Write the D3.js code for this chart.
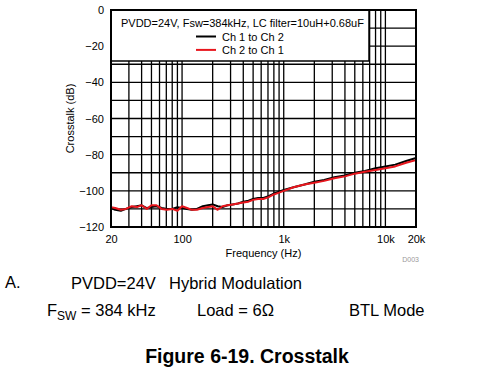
<!DOCTYPE html>
<html>
<head>
<meta charset="utf-8">
<script src="https://cdn.jsdelivr.net/npm/d3@7"></script>
<style>
  body { margin: 0; background: #fff; }
  svg text { font-family: "Liberation Sans", Arial, sans-serif; }
</style>
</head>
<body>
<div id="chart"></div>
<script>
// frequency points (Hz)
const freqs = [20, 22, 25, 28, 32, 36, 40, 45, 50, 56, 63, 71, 80, 90, 100, 112, 125, 140, 160, 180,
  200, 224, 250, 280, 315, 355, 400, 450, 500, 560, 630, 710, 800, 900, 1000, 1250, 1600, 2000,
  2500, 3150, 4000, 5000, 6300, 8000, 10000, 12500, 16000, 20000]

// Ch 1 to Ch 2 (dB)
const ch1to2 = [-109.5, -110.5, -111, -110, -109, -108.5, -108, -109.5, -109, -108.5, -109.5, -110,
  -110, -109, -109.5, -110, -110.5, -110, -108.5, -108, -107.5, -108.5, -109, -108, -107.5, -107,
  -106, -105.5, -104.5, -104, -104, -103, -101.5, -100.5, -99.5, -98, -96.5, -95, -94, -92.5,
  -91.5, -90, -89, -87.5, -86.5, -85.5, -83.5, -81.8]

// Ch 2 to Ch 1 (dB)
const ch2to1 = [-109, -109.5, -110.5, -110, -108.5, -109, -108, -110, -108, -108, -110, -110.5,
  -110, -111, -108.5, -109.5, -110.5, -110.5, -109.5, -109, -108.5, -110.5, -108.5, -108, -107.5,
  -107, -106.5, -106, -105, -104.5, -104.5, -103.5, -102, -101, -100, -98, -96.5, -95.5, -94.5,
  -93, -92, -90.5, -89.5, -88.5, -87.5, -86.5, -84.5, -83]

const yTicks = [0, -20, -40, -60, -80, -100, -120]
const xTicks = [20, 100, 1000, 10000, 20000]
const xTickLabels = ["20", "100", "1k", "10k", "20k"]

const W = 483, H = 371
const margin = {top: 10, left: 111, right: 67, bottom: 144}
const width = W - margin.left - margin.right
const height = H - margin.top - margin.bottom

const svg = d3.select("#chart").append("svg")
  .attr("width", W).attr("height", H)

const g = svg.append("g")
  .attr("transform", `translate(${margin.left},${margin.top})`)

const x = d3.scaleLog().domain([20, 20000]).range([0, width])
const y = d3.scaleLinear().domain([-120, 0]).range([height, 0])

// grid lines
const minor = []
for (let d = 10; d <= 10000; d *= 10) {
  for (let k = 1; k <= 9; k++) {
    const f = d * k
    if (f > 20 && f < 20000) minor.push(f)
  }
}
g.append("g").selectAll("line").data(minor).join("line")
  .attr("x1", d => x(d)).attr("x2", d => x(d))
  .attr("y1", 0).attr("y2", height)
  .attr("stroke", "#000").attr("stroke-width", 1.3)

g.append("g").selectAll("line").data(d3.range(-110, 0, 10)).join("line")
  .attr("x1", 0).attr("x2", width)
  .attr("y1", d => y(d)).attr("y2", d => y(d))
  .attr("stroke", "#000").attr("stroke-width", 1.3)

// legend box (covers the grid)
const lg = g.append("g")
lg.append("rect")
  .attr("x", 0).attr("y", 0)
  .attr("width", 258).attr("height", 51)
  .attr("fill", "#fff").attr("stroke", "#000").attr("stroke-width", 1.5)
lg.append("text").attr("x", 10).attr("y", 17)
  .attr("font-size", 11).text("PVDD=24V, Fsw=384kHz, LC filter=10uH+0.68uF")
const series = [
  {name: "Ch 1 to Ch 2", values: ch1to2, color: "#000"},
  {name: "Ch 2 to Ch 1", values: ch2to1, color: "#e8161d"}
]
series.forEach((s, i) => {
  const yy = 26.5 + i * 13.4
  lg.append("line").attr("x1", 85).attr("x2", 105)
    .attr("y1", yy).attr("y2", yy)
    .attr("stroke", s.color).attr("stroke-width", 2)
  lg.append("text").attr("x", 111).attr("y", yy + 4)
    .attr("font-size", 11).text(s.name)
})

// data lines
const line = d3.line()
  .x((d, i) => x(freqs[i]))
  .y(d => y(d))
series.forEach(s => {
  g.append("path").datum(s.values)
    .attr("fill", "none")
    .attr("stroke", s.color)
    .attr("stroke-width", 2)
    .attr("stroke-linejoin", "round")
    .attr("d", line)
})

// frame
g.append("rect").attr("width", width).attr("height", height)
  .attr("fill", "none").attr("stroke", "#000").attr("stroke-width", 2)

// axes
const yAxis = g.append("g")
  .call(d3.axisLeft(y).tickValues(yTicks).tickSize(0).tickPadding(7))
yAxis.select(".domain").remove()
yAxis.selectAll("text").attr("font-size", 11).attr("fill", "#000")
  .style("font-family", "'Liberation Sans', Arial, sans-serif")

const xAxis = g.append("g")
  .attr("transform", `translate(0,${height})`)
  .call(d3.axisBottom(x).tickValues(xTicks).tickSize(0).tickPadding(8)
    .tickFormat((d, i) => xTickLabels[i]))
xAxis.select(".domain").remove()
xAxis.selectAll("text").attr("font-size", 11).attr("fill", "#000")
  .style("font-family", "'Liberation Sans', Arial, sans-serif")

g.append("text")
  .attr("x", width / 2).attr("y", height + 30)
  .attr("text-anchor", "middle").attr("font-size", 11)
  .text("Frequency (Hz)")

g.append("text")
  .attr("transform", `translate(-37,${height / 2}) rotate(-90)`)
  .attr("text-anchor", "middle").attr("font-size", 11)
  .text("Crosstalk (dB)")

g.append("text")
  .attr("x", width + 3).attr("y", height + 35)
  .attr("text-anchor", "end").attr("font-size", 7).attr("fill", "#999")
  .text("D003")

// notes below chart
const fs = 16.5
svg.append("text").attr("x", 5).attr("y", 288).attr("font-size", fs).text("A.")
svg.append("text").attr("x", 71).attr("y", 289).attr("font-size", fs).text("PVDD=24V")
svg.append("text").attr("x", 169).attr("y", 289).attr("font-size", fs).text("Hybrid Modulation")
const fsw = svg.append("text").attr("x", 47).attr("y", 316).attr("font-size", fs)
fsw.append("tspan").text("F")
fsw.append("tspan").attr("font-size", 12).attr("dy", 4).text("SW")
fsw.append("tspan").attr("dy", -4).text(" = 384 kHz")
svg.append("text").attr("x", 197).attr("y", 316).attr("font-size", fs).text("Load = 6Ω")
svg.append("text").attr("x", 349).attr("y", 316).attr("font-size", fs).text("BTL Mode")

svg.append("text").attr("x", 247).attr("y", 363)
  .attr("text-anchor", "middle").attr("font-size", 19.5).attr("font-weight", "bold")
  .text("Figure 6-19. Crosstalk")
</script>
</body>
</html>
